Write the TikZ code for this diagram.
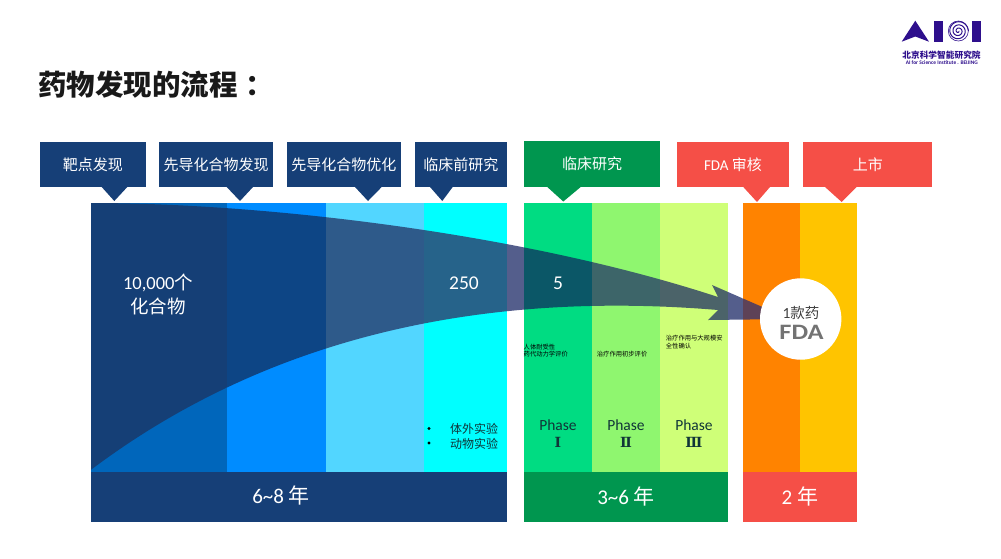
\documentclass[tikz,border=0pt]{standalone}
\usepackage{fontspec}
\setmainfont{Carlito}
\newfontfamily\cjk{Noto Sans CJK SC}
\newfontfamily\lat{Carlito}
\newfontfamily\romanfont{DejaVu Serif}
\definecolor{navyband}{HTML}{163F77}
\definecolor{greenband}{HTML}{00964F}
\definecolor{redband}{HTML}{F54F47}
\definecolor{logoblue}{HTML}{2E0F8C}
\definecolor{darktext}{HTML}{103538}
\definecolor{colblue}{HTML}{0066BB}
\definecolor{colazure}{HTML}{008CFF}
\definecolor{colsky}{HTML}{52D6FF}
\definecolor{colcyan}{HTML}{00FFFF}
\definecolor{colgreen}{HTML}{00DC82}
\definecolor{collime}{HTML}{8FF66F}
\definecolor{colpale}{HTML}{CFFF78}
\definecolor{colorange}{HTML}{FF8300}
\definecolor{colyellow}{HTML}{FFC400}
\definecolor{arrowblue}{HTML}{153F76}
\definecolor{arrowazure}{HTML}{0D4585}
\definecolor{arrowsky}{HTML}{2E5A8A}
\definecolor{arrowcyan}{HTML}{26638A}
\definecolor{arrowgap}{HTML}{545E8C}
\definecolor{arrowgreen}{HTML}{0B5767}
\definecolor{arrowlime}{HTML}{3D6569}
\definecolor{arrowpale}{HTML}{4B6369}
\definecolor{arroworange}{HTML}{5E4257}
\tikzset{
	callout/.style={fill=#1,text=white,inner sep=0pt,font=\cjk\fontsize{15}{18}\selectfont},
	band/.style={fill=#1,inner sep=0pt},
	bandtext/.style={text=white,inner sep=0pt,font=\cjk\fontsize{21}{25}\selectfont},
	count/.style={text=white,inner sep=0pt,font=\cjk\fontsize{18.5}{22}\selectfont},
	phase/.style={text=darktext,inner sep=0pt,font=\fontsize{15.5}{20}\selectfont},
	numeral/.style={text=darktext,inner sep=0pt,font=\romanfont\bfseries\fontsize{14}{18}\selectfont},
	note/.style={anchor=west,text=black,inner sep=0pt,font=\cjk\fontsize{6.3}{8}\selectfont},
	assay/.style={anchor=west,text=darktext,inner sep=0pt,font=\cjk\fontsize{12}{14}\selectfont}
}
\begin{document}
\begin{tikzpicture}[x=1pt,y=-1pt]
	\useasboundingbox (0,0) rectangle (1001,558);
	\node[anchor=west,inner sep=0pt,text=black!90,font=\cjk\bfseries\fontsize{28.5}{34}\selectfont] (title) at (38,85) {药物发现的流程\hspace{8pt}：};

	\fill[logoblue] (901.7,41.7) -- (915.3,20.7) -- (929,41.7) -- (915.3,36.5) -- cycle;
	\fill[logoblue] (933.7,20.7) rectangle (943.3,41.7);
	\fill[logoblue] (971.7,20.7) rectangle (981,41.7);
	\draw[logoblue,line width=1pt] plot[domain=0:1080,samples=150,smooth] ({958.3+(0.5+\x/113)*cos(\x)},{31+(0.5+\x/113)*sin(\x)});
	\draw[logoblue,line width=0.6pt] (958.3,31) circle (10);
	\node[inner sep=0pt,text=logoblue,font=\cjk\bfseries\fontsize{8.7}{10}\selectfont] (logocn) at (941.5,55) {北京科学智能研究院};
	\node[inner sep=0pt,text=logoblue,font=\bfseries\fontsize{5.4}{6}\selectfont] (logoen) at (941.8,63) {AI for Science Institute . BEIJING};

	\fill[navyband] (101.7,187) -- (114.3,201) -- (127.3,187) -- cycle;
	\fill[navyband] (226.7,187) -- (240,201) -- (253,187) -- cycle;
	\fill[navyband] (355,187) -- (368,201) -- (381.7,187) -- cycle;
	\fill[navyband] (430,187) -- (442.3,201) -- (452.7,187) -- cycle;
	\fill[greenband] (547.3,187) -- (563.3,201.5) -- (580.7,187) -- cycle;
	\fill[redband] (743.3,187) -- (757,202) -- (770,187) -- cycle;
	\fill[redband] (825,187) -- (841.7,202) -- (856.7,187) -- cycle;

	\node[callout=navyband,minimum width=105.7pt,minimum height=45.6pt] (target) at (92.9,164.5) {靶点发现};
	\node[callout=navyband,minimum width=113.7pt,minimum height=45.6pt] (hit) at (216.2,164.5) {先导化合物发现};
	\node[callout=navyband,minimum width=114.3pt,minimum height=45.6pt] (lead) at (343.9,164.5) {先导化合物优化};
	\node[callout=navyband,minimum width=91.7pt,minimum height=45.6pt] (preclinical) at (460.9,164.5) {临床前研究};
	\node[callout=greenband,minimum width=136.3pt,minimum height=46pt] (clinical) at (592.2,164.2) {临床研究};
	\node[callout=redband,minimum width=112.6pt,minimum height=45.6pt] (review) at (733,164.5) {{\lat FDA} 审核};
	\node[callout=redband,minimum width=129pt,minimum height=45.6pt] (market) at (867.8,164.5) {上市};

	\fill[colblue] (90.7,203) rectangle (227,472);
	\fill[colazure] (227,203) rectangle (325.8,472);
	\fill[colsky] (325.8,203) rectangle (423.7,472);
	\fill[colcyan] (423.7,203) rectangle (506.7,472);
	\fill[colgreen] (524,203) rectangle (592,472);
	\fill[collime] (592,203) rectangle (660,472);
	\fill[colpale] (660,203) rectangle (728,472);
	\fill[colorange] (743,203) rectangle (799.7,472);
	\fill[colyellow] (799.7,203) rectangle (856.7,472);

	\begin{scope}
		\clip (90.7,203) .. controls (260,203) and (520,232) .. (718,297) -- (712,285) -- (790,319) -- (708,320) -- (718,310) .. controls (430,286) and (230,365) .. (90.7,470) -- cycle;
		\fill[arrowblue] (90.7,203) rectangle (227,472);
		\fill[arrowazure] (227,203) rectangle (325.8,472);
		\fill[arrowsky] (325.8,203) rectangle (423.7,472);
		\fill[arrowcyan] (423.7,203) rectangle (506.7,472);
		\fill[arrowgap] (506.7,203) rectangle (524,472);
		\fill[arrowgreen] (524,203) rectangle (592,472);
		\fill[arrowlime] (592,203) rectangle (660,472);
		\fill[arrowpale] (660,203) rectangle (728,472);
		\fill[arrowgap] (728,203) rectangle (743,472);
		\fill[arroworange] (743,203) rectangle (799.7,472);
	\end{scope}

	\node[circle,fill=white,minimum size=81.4pt,inner sep=0pt] (approval) at (800.7,319) {};
	\node[inner sep=0pt,text=black!75,font=\cjk\fontsize{14.5}{16}\selectfont] (drug) at (801,313) {{\lat\fontsize{15.5}{16}\selectfont 1}款药};
	\node[inner sep=0pt,text=black!55,font=\bfseries\fontsize{22}{24}\selectfont,xscale=1.2,transform shape] (fda) at (801.5,332.5) {FDA};

	\node[band=navyband,minimum width=416pt,minimum height=49.7pt] (bandone) at (298.7,497) {};
	\node[band=greenband,minimum width=204pt,minimum height=49.7pt] (bandtwo) at (626,497) {};
	\node[band=redband,minimum width=113.7pt,minimum height=49.7pt] (bandthree) at (799.9,497) {};
	\node[bandtext] (yearsone) at (281,495.5) {{\lat 6\textasciitilde8} 年};
	\node[bandtext] (yearstwo) at (626,496.5) {{\lat 3\textasciitilde6} 年};
	\node[bandtext] (yearsthree) at (799.9,496.5) {{\lat 2} 年};

	\node[count] (compounds) at (158,283) {{\lat 10,000}个};
	\node[count] (compoundsb) at (158,306.5) {化合物};
	\node[count] (twofifty) at (464,283) {\lat\fontsize{19.5}{22}\selectfont 250};
	\node[count] (five) at (558,283) {\lat\fontsize{19.5}{22}\selectfont 5};

	\node[circle,fill=black,minimum size=3.2pt,inner sep=0pt] (dota) at (429,428.5) {};
	\node[circle,fill=black,minimum size=3.2pt,inner sep=0pt] (dotb) at (429,443) {};
	\node[assay] (vitro) at (450,429) {体外实验};
	\node[assay] (vivo) at (450,443.5) {动物实验};

	\node[note] (notea) at (523.5,346.7) {人体耐受性};
	\node[note] (noteb) at (523.5,354) {药代动力学评价};
	\node[note] (notec) at (596.7,354) {治疗作用初步评价};
	\node[note] (noted) at (665.7,338.3) {治疗作用与大规模安};
	\node[note] (notee) at (665.7,346) {全性确认};

	\node[phase] (phasea) at (558,425.5) {Phase};
	\node[phase] (phaseb) at (626,425.5) {Phase};
	\node[phase] (phasec) at (694,425.5) {Phase};
	\node[numeral] (numa) at (558,442.3) {Ⅰ};
	\node[numeral] (numb) at (626,442.3) {Ⅱ};
	\node[numeral] (numc) at (694,442.3) {Ⅲ};
\end{tikzpicture}
\end{document}
